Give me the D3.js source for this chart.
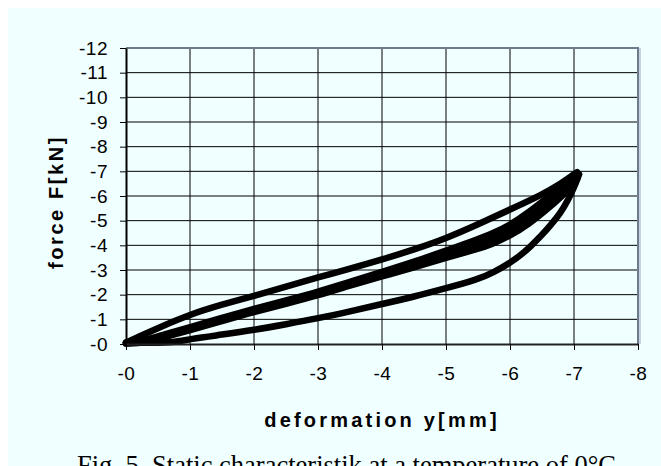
<html>
<head>
<script src="https://d3js.org/d3.v7.min.js"></script>
<style>
  body { margin: 0; background: #ffffff; }
  .tick text { font-family: "Liberation Sans", Arial, sans-serif; font-size: 19px; letter-spacing: 0.5px; fill: #000; }
</style>
</head>
<body>
<svg width="661" height="466"></svg>
<script>
// axis ticks
const xTicks = [0, -1, -2, -3, -4, -5, -6, -7, -8];
const xLabels = ["-0", "-1", "-2", "-3", "-4", "-5", "-6", "-7", "-8"];
const yTicks = [0, -1, -2, -3, -4, -5, -6, -7, -8, -9, -10, -11, -12];
const yLabels = ["-0", "-1", "-2", "-3", "-4", "-5", "-6", "-7", "-8", "-9", "-10", "-11", "-12"];

// [deformation y (mm), force F (kN)]
const loading1 = [[0, -0.05], [-0.2, -0.3], [-0.5, -0.65], [-1, -1.2], [-1.5, -1.6], [-2, -1.95],
  [-2.5, -2.33], [-3, -2.7], [-3.5, -3.05], [-4, -3.42], [-4.5, -3.83], [-5, -4.28], [-5.5, -4.85],
  [-6, -5.45], [-6.5, -6.05], [-6.8, -6.5], [-7.05, -6.97]];
const loading2 = [[0, -0.05], [-0.3, -0.15], [-0.6, -0.4], [-1, -0.68], [-1.5, -1.06], [-2, -1.43],
  [-2.5, -1.77], [-3, -2.12], [-3.5, -2.52], [-4, -2.92], [-4.5, -3.33], [-5, -3.78], [-5.5, -4.25],
  [-5.7, -4.45], [-6, -4.82], [-6.3, -5.35], [-6.6, -5.97], [-6.9, -6.58], [-7.05, -6.82]];
const loading3 = [[0, -0.03], [-0.3, -0.1], [-0.6, -0.34], [-1, -0.62], [-1.5, -1.0], [-2, -1.37],
  [-2.5, -1.7], [-3, -2.05], [-3.5, -2.45], [-4, -2.83], [-4.5, -3.22], [-5, -3.64], [-5.5, -4.04],
  [-5.7, -4.25], [-6, -4.6], [-6.3, -5.1], [-6.6, -5.75], [-6.9, -6.4], [-7.05, -6.75]];
const unloading2 = [[-7.05, -6.7], [-6.9, -6.2], [-6.6, -5.5], [-6.3, -4.87], [-6, -4.38], [-5.7, -4.03],
  [-5.5, -3.85], [-5, -3.5], [-4.5, -3.1], [-4, -2.74], [-3.5, -2.37], [-3, -1.97], [-2.5, -1.63],
  [-2, -1.3], [-1.5, -0.93], [-1, -0.55], [-0.6, -0.28], [-0.3, -0.05], [0, -0.02]];
const unloading1 = [[-7.08, -6.88], [-7.0, -6.33], [-6.9, -5.8], [-6.8, -5.36], [-6.65, -4.86], [-6.5, -4.42],
  [-6.3, -3.9], [-6.15, -3.57], [-6, -3.29], [-5.75, -2.91], [-5.5, -2.62], [-5, -2.26], [-4.5, -1.92],
  [-4, -1.62], [-3.5, -1.32], [-3, -1.04], [-2.5, -0.8], [-2, -0.57], [-1.5, -0.38], [-1, -0.2],
  [-0.73, -0.06], [-0.4, -0.05], [0, -0.05]];
const series = [loading1, loading2, loading3, unloading2, unloading1];

const svg = d3.select("svg");

// cyan page background
svg.append("rect").attr("x", 8).attr("y", 8).attr("width", 653).attr("height", 458).style("fill", "#f0ffff");

const xScale = d3.scaleLinear().domain([0, -8]).range([126, 638]);
const yScale = d3.scaleLinear().domain([0, -12]).range([344, 48]);

// grid
svg.append("g").selectAll("line")
  .data(xTicks.slice(1, -1)).enter().append("line")
    .attr("x1", d => xScale(d)).attr("x2", d => xScale(d))
    .attr("y1", yScale(-12)).attr("y2", yScale(0))
    .style("stroke", "#000").style("stroke-width", 1);
svg.append("g").selectAll("line")
  .data(yTicks.slice(1, -1)).enter().append("line")
    .attr("x1", xScale(0)).attr("x2", xScale(-8))
    .attr("y1", d => yScale(d)).attr("y2", d => yScale(d))
    .style("stroke", "#000").style("stroke-width", 1);

// top and right frame
svg.append("line")
  .attr("x1", xScale(0)).attr("x2", xScale(-8) + 1)
  .attr("y1", yScale(-12)).attr("y2", yScale(-12))
  .style("stroke", "#6c7c8c").style("stroke-width", 2);
svg.append("line")
  .attr("x1", xScale(-8) + 2).attr("x2", xScale(-8) + 2)
  .attr("y1", yScale(-12)).attr("y2", yScale(0))
  .style("stroke", "#b8c4d4").style("stroke-width", 1.5);
svg.append("line")
  .attr("x1", xScale(-8)).attr("x2", xScale(-8))
  .attr("y1", yScale(-12)).attr("y2", yScale(0))
  .style("stroke", "#6c7c8c").style("stroke-width", 2);

// curves
const line = d3.line()
  .x(d => xScale(d[0]))
  .y(d => yScale(d[1]))
  .curve(d3.curveBasis);
svg.append("g").selectAll("path")
  .data(series).enter().append("path")
    .attr("d", line)
    .style("fill", "none")
    .style("stroke", "#000")
    .style("stroke-width", 6.5)
    .style("stroke-linecap", "round")
    .style("stroke-linejoin", "round");

// Y axis
const yAxis = svg.append("g")
  .attr("transform", "translate(" + xScale(0) + ",0)")
  .call(d3.axisLeft(yScale).tickValues(yTicks).tickFormat((d, i) => yLabels[i]).tickSize(6).tickSizeOuter(0).tickPadding(12));
yAxis.select(".domain").style("stroke", "#000").style("stroke-width", 2);
yAxis.selectAll(".tick line").style("stroke", "#000");

// X axis
const xAxis = svg.append("g")
  .attr("transform", "translate(0," + yScale(0) + ")")
  .call(d3.axisBottom(xScale).tickValues(xTicks).tickFormat((d, i) => xLabels[i]).tickSize(6).tickSizeOuter(0).tickPadding(17));
xAxis.select(".domain").style("stroke", "#222").style("stroke-width", 2);
xAxis.selectAll(".tick line").style("stroke", "#000");

// axis titles
svg.append("text")
  .attr("transform", "translate(63,202) rotate(-90)")
  .style("text-anchor", "middle")
  .style("font-family", "Liberation Sans, Arial, sans-serif")
  .style("font-weight", "bold")
  .style("font-size", "20px")
  .style("letter-spacing", "2.6px")
  .text("force F[kN]");
svg.append("text")
  .attr("x", 382).attr("y", 427)
  .style("text-anchor", "middle")
  .style("font-family", "Liberation Sans, Arial, sans-serif")
  .style("font-weight", "bold")
  .style("font-size", "20px")
  .style("letter-spacing", "3.2px")
  .text("deformation y[mm]");

// caption
svg.append("text")
  .attr("x", 77).attr("y", 474)
  .style("font-family", "Liberation Serif, Times New Roman, serif")
  .style("font-size", "26.5px")
  .text("Fig. 5. Static characteristik at a temperature of 0°C");
</script>
</body>
</html>
